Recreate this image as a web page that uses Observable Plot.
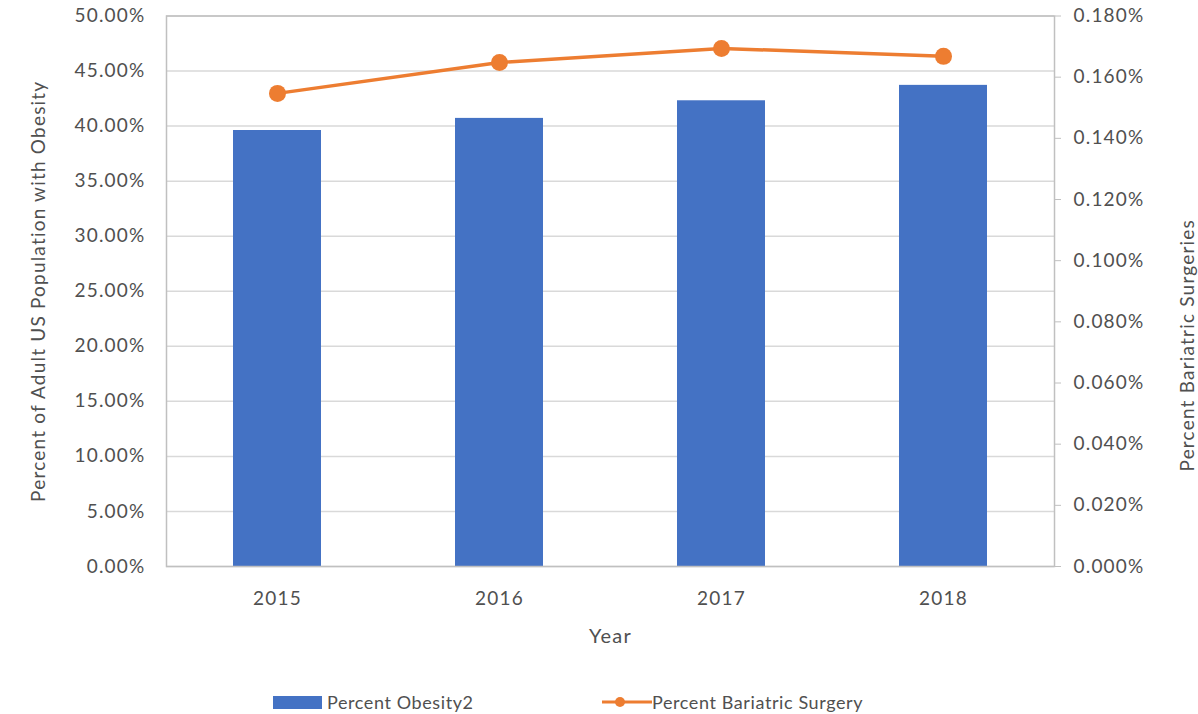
<!DOCTYPE html>
<html>
<head>
<meta charset="utf-8">
<script src="https://cdn.jsdelivr.net/npm/d3@7"></script>
<script src="https://cdn.jsdelivr.net/npm/@observablehq/plot@0.6"></script>
<style>
  html, body { margin: 0; padding: 0; background: #fff; }
  #wrap { width: 1198px; position: relative; font-family: Lato, "Open Sans", sans-serif; color: #505050; }
  #legend { position: relative; width: 1198px; height: 34px; font-size: 18px; letter-spacing: 0.6px; }
  .item { position: absolute; top: 10px; height: 24px; line-height: 24px; white-space: nowrap; }
</style>
</head>
<body>
<div id="wrap">
  <div id="chart"></div>
  <div id="legend"></div>
</div>
<script>
const years = ["2015", "2016", "2017", "2018"];
const obesity = [39.6, 40.7, 42.3, 43.7];          // % of adult US population
const bariatric = [0.1547, 0.1648, 0.1694, 0.1668]; // % bariatric surgeries
const leftTicks = [0, 5, 10, 15, 20, 25, 30, 35, 40, 45, 50];
const rightTicks = [0, 0.02, 0.04, 0.06, 0.08, 0.10, 0.12, 0.14, 0.16, 0.18];
const leftMax = 50, rightMax = 0.18;
const seriesNames = ["Percent Obesity2", "Percent Bariatric Surgery"];
const leftTitle = "Percent of Adult US Population with Obesity";
const rightTitle = "Percent Bariatric Surgeries";
const xTitle = "Year";

const data = years.map((y, i) => ({year: y, obesity: obesity[i], bariatric: bariatric[i], b2: bariatric[i] * leftMax / rightMax}));
const toLeft = v => v * leftMax / rightMax;

const blue = "#4472c4", orange = "#ed7d31", textColor = "#505050";

const chart = Plot.plot({
  width: 1198,
  height: 680,
  marginLeft: 166,
  marginRight: 144,
  marginTop: 15.5,
  marginBottom: 114,
  style: {fontFamily: "Lato, 'Open Sans', sans-serif", fontSize: "19px", color: textColor, letterSpacing: "1.2px", background: "#fff"},
  x: {type: "band", domain: years, padding: 0},
  y: {domain: [0, leftMax]},
  marks: [
    Plot.gridY(leftTicks, {stroke: "#d9d9d9", strokeOpacity: 1, strokeWidth: 1.5}),
    Plot.barY(data, {x: "year", y: "obesity", fill: blue, insetLeft: 67, insetRight: 67}),
    Plot.frame({stroke: "#c0c0c0", strokeWidth: 1.5}),
    Plot.line(data, {x: "year", y: "b2", stroke: orange, strokeWidth: 3.5}),
    Plot.dot(data, {x: "year", y: "b2", r: 8.5, fill: orange, stroke: "none"}),
    Plot.axisY(leftTicks, {anchor: "left", tickSize: 0, tickPadding: 21, tickFormat: d => d.toFixed(2) + "%", label: null}),
    Plot.axisY(rightTicks.map(toLeft), {anchor: "right", tickSize: 6, tickPadding: 13, stroke: "#c0c0c0", tickFormat: d => (d * rightMax / leftMax).toFixed(3) + "%", label: null}),
    Plot.axisX({tickSize: 0, tickPadding: 25, label: null}),
    Plot.text([xTitle], {text: d => d, frameAnchor: "bottom", dy: 70, lineAnchor: "middle", textAnchor: "middle", fontSize: 20, fill: textColor}),
    Plot.text([leftTitle], {text: d => d, frameAnchor: "left", dx: -128, rotate: -90, lineAnchor: "middle", textAnchor: "middle", fontSize: 19, fill: textColor}),
    Plot.text([rightTitle], {text: d => d, frameAnchor: "right", dx: 133, dy: 54, rotate: -90, lineAnchor: "middle", textAnchor: "middle", fontSize: 19, fill: textColor})
  ]
});
document.getElementById("chart").appendChild(chart);

// legend
const legend = d3.select("#legend");
const it1 = legend.append("div").attr("class", "item").style("left", "273px");
it1.append("span").style("display", "inline-block").style("width", "49px").style("height", "13px")
   .style("background", blue).style("vertical-align", "middle").style("margin-right", "5px").style("position", "relative").style("top", "-2px");
it1.append("span").text(seriesNames[0]);
const it2 = legend.append("div").attr("class", "item").style("left", "602px");
const sv = it2.append("svg").attr("width", 50).attr("height", 14).style("vertical-align", "middle").style("position", "relative").style("top", "-2px");
sv.append("line").attr("x1", 0).attr("x2", 50).attr("y1", 7).attr("y2", 7).attr("stroke", orange).attr("stroke-width", 3);
sv.append("circle").attr("cx", 18).attr("cy", 7).attr("r", 5).attr("fill", orange);
it2.append("span").text(seriesNames[1]);
</script>
</body>
</html>
